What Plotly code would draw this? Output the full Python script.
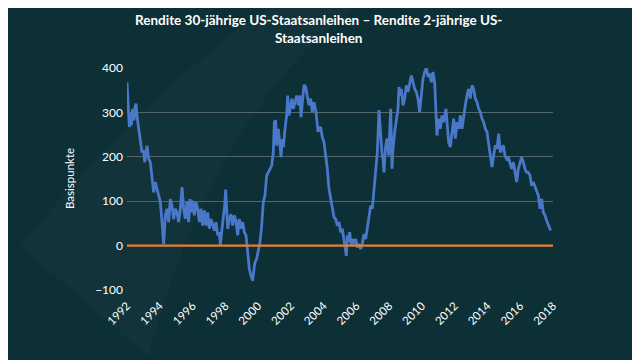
import plotly.graph_objects as go

years = [
    1992.000, 1992.142, 1992.203, 1992.264, 1992.346, 1992.427, 1992.488, 1992.549, 1992.631,
    1992.712, 1992.814, 1992.915, 1993.017, 1993.078, 1993.221, 1993.322, 1993.424, 1993.526,
    1993.628, 1993.729, 1993.831, 1993.933, 1994.034, 1994.136, 1994.238, 1994.339, 1994.441,
    1994.543, 1994.644, 1994.746, 1994.848, 1994.950, 1995.052, 1995.153, 1995.255, 1995.357,
    1995.459, 1995.560, 1995.662, 1995.764, 1995.845,
    1995.906, 1996.008, 1996.109, 1996.211, 1996.313, 1996.414, 1996.516, 1996.618, 1996.720,
    1996.821, 1996.923, 1997.025, 1997.126, 1997.228, 1997.330, 1997.432, 1997.533, 1997.635,
    1997.696, 1997.798, 1997.879, 1997.961, 1998.022, 1998.083, 1998.144, 1998.245, 1998.347,
    1998.449, 1998.551, 1998.652, 1998.754, 1998.856, 1998.958, 1999.059, 1999.161, 1999.263,
    1999.324, 1999.405, 1999.466, 1999.568, 1999.670, 1999.751,
    1999.812, 1999.914, 2000.015, 2000.117, 2000.219, 2000.320, 2000.422, 2000.524, 2000.626,
    2000.727, 2000.829, 2000.931, 2000.992, 2001.073, 2001.134, 2001.236, 2001.338, 2001.399,
    2001.480, 2001.541, 2001.643, 2001.745, 2001.806, 2001.887, 2001.989, 2002.070, 2002.151,
    2002.253, 2002.355, 2002.456, 2002.558, 2002.619, 2002.701, 2002.803, 2002.904, 2003.006,
    2003.108, 2003.209, 2003.311, 2003.413, 2003.535, 2003.657,
    2003.718, 2003.820, 2003.921, 2004.023, 2004.125, 2004.226, 2004.328, 2004.430, 2004.532,
    2004.633, 2004.735, 2004.837, 2004.939, 2005.040, 2005.142, 2005.244, 2005.305, 2005.386,
    2005.447, 2005.508, 2005.590, 2005.691, 2005.773, 2005.854, 2005.956, 2006.057, 2006.159,
    2006.261, 2006.363, 2006.464, 2006.566, 2006.668, 2006.770, 2006.871, 2006.973, 2007.075,
    2007.176, 2007.278, 2007.380, 2007.482, 2007.563,
    2007.624, 2007.685, 2007.766, 2007.868, 2007.970, 2008.031, 2008.092, 2008.173, 2008.234,
    2008.336, 2008.438, 2008.539, 2008.600, 2008.682, 2008.743, 2008.845, 2008.946, 2009.048,
    2009.150, 2009.252, 2009.353, 2009.455, 2009.557, 2009.658, 2009.760, 2009.862, 2009.964,
    2010.065, 2010.167, 2010.269, 2010.370, 2010.472, 2010.574, 2010.676, 2010.777, 2010.838,
    2010.920, 2011.021, 2011.123, 2011.225, 2011.327, 2011.469,
    2011.530, 2011.632, 2011.733, 2011.835, 2011.937, 2012.039, 2012.140, 2012.242, 2012.344,
    2012.445, 2012.547, 2012.649, 2012.751, 2012.852, 2012.954, 2013.056, 2013.157, 2013.259,
    2013.361, 2013.463, 2013.564, 2013.666, 2013.768, 2013.869, 2013.971, 2014.073, 2014.174,
    2014.276, 2014.378, 2014.480, 2014.581, 2014.683, 2014.785,
    2014.968, 2015.070, 2015.172, 2015.273, 2015.375, 2015.477, 2015.578, 2015.680, 2015.782,
    2015.883, 2015.985, 2016.087, 2016.189, 2016.290, 2016.392, 2016.494, 2016.595, 2016.697,
    2016.799, 2016.901, 2017.002, 2017.104, 2017.206, 2017.307, 2017.409, 2017.511, 2017.613,
    2017.714, 2017.816, 2017.857,
]

# Spread 30y - 2y in basis points
spread_bp = [
    368, 267, 301, 271, 308, 282, 312, 320, 286,
    263, 233, 210, 214, 188, 225, 195, 188, 158,
    120, 143, 128, 113, 98, 53, 4, 68, 83,
    53, 105, 90, 60, 83, 75, 53, 83, 132,
    83, 60, 98, 53, 105,
    75, 101, 68, 98, 83, 53, 83, 45, 79,
    45, 75, 38, 60, 45, 34, 53, 23, 30,
    2, 38, 60, 90, 126, 68, 38, 60, 71,
    45, 68, 56, 23, 60, 38, 53, 30, 23,
    -4, -23, -53, -68, -79, -53,
    -38, -30, -8, 8, 45, 98, 113, 158, 165,
    173, 180, 210, 278, 282, 225, 263, 210, 199,
    240, 222, 263, 293, 338, 293, 316, 331, 308,
    323, 338, 316, 338, 289, 331, 362, 357, 331,
    316, 331, 301, 323, 301, 256,
    263, 267, 244, 233, 203, 173, 128, 105, 90,
    64, 60, 45, 53, 30, 38, 15, 0, -23,
    23, 8, 30, 0, 15, 4, 15, -4, 4,
    -8, 4, 26, 15, 38, 60, 90, 83, 120,
    158, 210, 305, 248, 207,
    195, 165, 218, 241, 203, 263, 308, 173, 218,
    256, 278, 308, 357, 338, 353, 316, 331, 361,
    346, 368, 383, 368, 353, 346, 331, 301, 346,
    376, 391, 400, 380, 387, 368, 391, 368, 308,
    248, 286, 263, 293, 278, 308,
    278, 233, 222, 263, 286, 241, 278, 263, 293,
    263, 293, 316, 338, 353, 331, 361, 353, 331,
    323, 308, 301, 286, 278, 263, 256, 233, 203,
    177, 203, 226, 218, 252, 210,
    226, 203, 195, 199, 188, 173, 188, 165, 143,
    173, 188, 199, 188, 173, 165, 165, 158, 135,
    143, 132, 120, 113, 83, 105, 75, 68, 56,
    45, 38, 34,
]

zero_years = [1992.0, 2018.0]
zero_values = [0, 0]

tick_years = list(range(1992, 2019, 2))
tick_labels = [str(y) for y in tick_years]
y_ticks = [-100, 0, 100, 200, 300, 400]

title_text = "Rendite 30-jährige US-Staatsanleihen – Rendite 2-jährige US-<br>Staatsanleihen"

BG = "#0d2f36"
FONT = "Lato, 'Open Sans', sans-serif"

fig = go.Figure()
fig.add_trace(go.Scatter(
    x=years, y=spread_bp, mode="lines",
    line=dict(color="#4a78c8", width=2.8),
    showlegend=False, hoverinfo="skip",
))
fig.add_trace(go.Scatter(
    x=zero_years, y=zero_values, mode="lines",
    line=dict(color="#ed7d31", width=2.4),
    showlegend=False, hoverinfo="skip",
))

# faint decorative swoosh in the background
fig.add_shape(type="path", xref="paper", yref="paper", layer="below",
              path="M -0.25 0.2 Q 0.05 0.9 0.35 1.3 L 0.55 1.3 Q 0.2 0.8 0.05 -0.3 Z",
              fillcolor="rgba(255,255,255,0.025)", line=dict(width=0))

fig.add_annotation(
    text="<b>" + title_text + "</b>", xref="paper", yref="paper",
    x=0.45, y=1.0, yshift=58, xanchor="center", yanchor="top",
    showarrow=False, align="center",
    font=dict(family=FONT, size=13.5, color="white"),
)
fig.add_annotation(
    text="Basispunkte", xref="paper", yref="paper",
    x=0, xshift=-58, y=0.5, textangle=-90, showarrow=False,
    xanchor="center", yanchor="middle",
    font=dict(family=FONT, size=11.5, color="white"),
)

fig.update_layout(
    width=640, height=360,
    paper_bgcolor=BG, plot_bgcolor="rgba(0,0,0,0)",
    margin=dict(l=119, r=95, t=60, b=78, autoexpand=False),
    font=dict(family=FONT, color="white", size=11),
    showlegend=False,
)
fig.update_xaxes(
    range=[1992, 2018], tickvals=tick_years, ticktext=tick_labels,
    tickangle=-45, showgrid=False, zeroline=False, showline=False,
    tickfont=dict(family=FONT, size=11.5, color="white"),
    ticks="", automargin=False, ticklabelstandoff=6,
)
fig.update_yaxes(
    range=[-100, 400], tickvals=y_ticks,
    showgrid=True, gridcolor="#53666b", gridwidth=1, zeroline=False,
    showline=False, ticks="", automargin=False, ticklabelstandoff=3,
    tickfont=dict(family=FONT, size=12, color="white"),
)

fig.write_html("out.html")
